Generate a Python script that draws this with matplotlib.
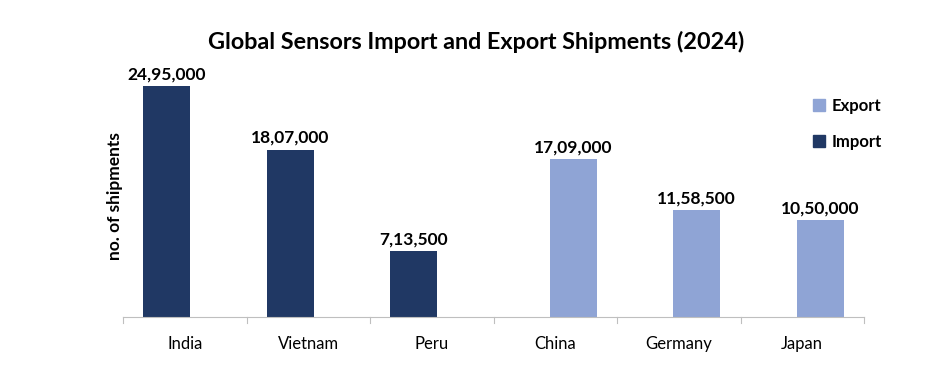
import matplotlib
matplotlib.use("Agg")
import matplotlib.pyplot as plt
from matplotlib.patches import Patch

categories = ["India", "Vietnam", "Peru", "China", "Germany", "Japan"]
import_values = [2495000, 1807000, 713500, 0, 0, 0]
export_values = [0, 0, 0, 1709000, 1158500, 1050000]
import_labels = ["24,95,000", "18,07,000", "7,13,500", "", "", ""]
export_labels = ["", "", "", "17,09,000", "11,58,500", "10,50,000"]
colors = {"Import": "#203864", "Export": "#8FA4D5"}

plt.rcParams['font.family'] = ['Lato', 'DejaVu Sans']

W, H = 938, 370
fig = plt.figure(figsize=(W / 100, H / 100), dpi=100)
left, right, bottom, top = 123, 864, 317, 60
ax = fig.add_axes([left / W, 1 - bottom / H, (right - left) / W, (bottom - top) / H])

x = list(range(len(categories)))
off = 0.146
bw = 0.38
ax.bar([xi - off for xi in x], import_values, width=bw, color=colors["Import"])
ax.bar([xi + off for xi in x], export_values, width=bw, color=colors["Export"])
for xi, v, lab in zip(x, import_values, import_labels):
    if lab:
        ax.text(xi - off, v + 40000, lab, ha='center', va='bottom', fontsize=12.5, fontweight='bold', color='black')
for xi, v, lab in zip(x, export_values, export_labels):
    if lab:
        ax.text(xi + off, v + 40000, lab, ha='center', va='bottom', fontsize=12.5, fontweight='bold', color='black')

ymax_val = max(import_values + export_values)
ax.set_xlim(-0.5, len(categories) - 0.5)
ax.set_ylim(0, ymax_val * (bottom - top) / (bottom - 86))
ax.set_xticks(x)
ax.set_xticklabels(categories, fontsize=12)
ax.tick_params(axis='x', length=0, pad=14)
ax.set_yticks([])
for s in ['top', 'right', 'left']:
    ax.spines[s].set_visible(False)
ax.spines['bottom'].set_color('#BFBFBF')
ax.spines['bottom'].set_linewidth(0.8)
for b in [i - 0.5 for i in range(len(categories) + 1)]:
    ax.plot([b, b], [0, -0.025], transform=ax.get_xaxis_transform(), color='#BFBFBF', lw=0.8, clip_on=False)

fig.text(115 / W, 1 - 196 / H, "no. of shipments", rotation=90, ha='center', va='center',
         fontsize=12.5, fontweight='bold')

fig.text(476 / W, 1 - 42 / H, "Global Sensors Import and Export Shipments (2024)", ha='center', va='center',
         fontsize=16.8, fontweight='bold')

handles = [Patch(color=colors["Export"], label="Export"), Patch(color=colors["Import"], label="Import")]
fig.legend(handles=handles, loc='center left', bbox_to_anchor=(798 / W, 1 - 124 / H), frameon=False,
           handlelength=0.7, handleheight=0.7, handletextpad=0.4, labelspacing=1.2,
           prop={'weight': 'bold', 'size': 12})

fig.savefig("out.png", dpi=100)
